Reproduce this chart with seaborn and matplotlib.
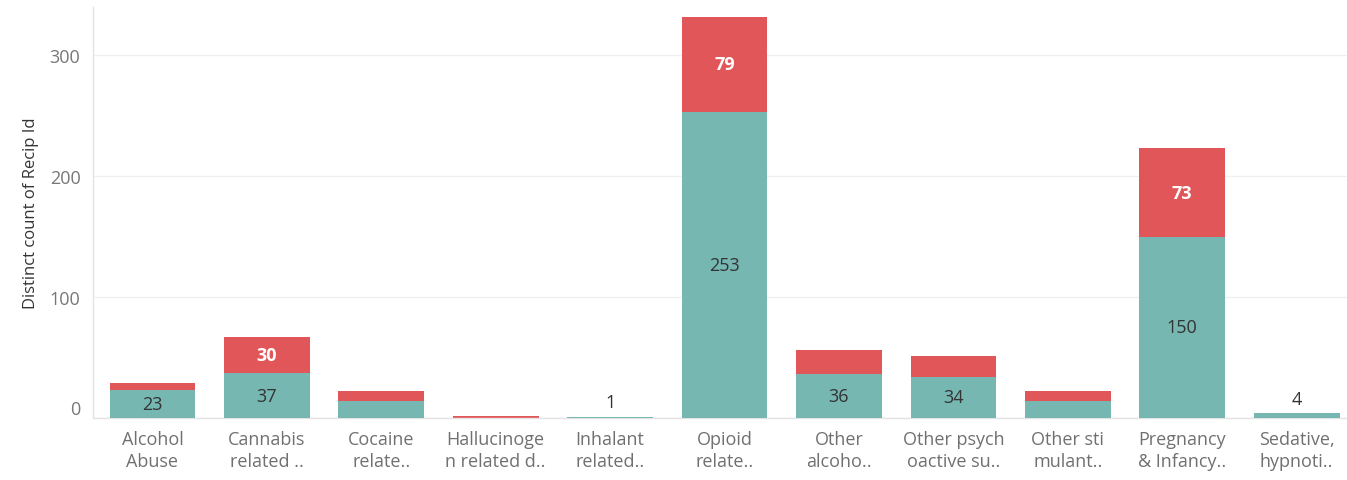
import matplotlib
matplotlib.use("Agg")
import matplotlib.pyplot as plt
import seaborn as sns
import pandas as pd

# Categories (two-line tick labels) and the two stacked series
categories = [
    "Alcohol\nAbuse", "Cannabis\nrelated ..", "Cocaine\nrelate..",
    "Hallucinoge\nn related d..", "Inhalant\nrelated..", "Opioid\nrelate..",
    "Other\nalcoho..", "Other psych\noactive su..", "Other sti\nmulant..",
    "Pregnancy\n& Infancy..", "Sedative,\nhypnoti..",
]
teal_values = [23, 37, 14, 0, 1, 253, 36, 34, 14, 150, 4]
red_values = [6, 30, 8, 2, 0, 79, 20, 17, 8, 73, 0]

# Which segment values are printed on the chart
teal_labels = ["23", "37", "", "", "1", "253", "36", "34", "", "150", "4"]
red_labels = ["", "30", "", "", "", "79", "", "", "", "73", ""]

TEAL = "#76b7b2"
RED = "#e15759"

df = pd.DataFrame({
    "category": categories,
    "teal": teal_values,
    "red": red_values,
})
df["total"] = df["teal"] + df["red"]

sns.set_theme(style="white")
plt.rcParams["font.family"] = ["Open Sans", "DejaVu Sans"]

fig = plt.figure(figsize=(13.47, 4.81), dpi=100)
ax = fig.add_axes([93 / 1347, 62 / 481, 1 - 93 / 1347, 411 / 481])

# Stacked bars: full total in red, teal portion drawn over it
sns.barplot(data=df, x="category", y="total", color=RED, width=0.75,
            saturation=1, linewidth=0, edgecolor="none", ax=ax, zorder=2)
sns.barplot(data=df, x="category", y="teal", color=TEAL, width=0.75,
            saturation=1, linewidth=0, edgecolor="none", ax=ax, zorder=3)

red_bars = ax.containers[0]
teal_bars = ax.containers[1]

# Segment labels
for bar, val, lab in zip(teal_bars, teal_values, teal_labels):
    if not lab:
        continue
    cx = bar.get_x() + bar.get_width() / 2
    if val < 10:
        ax.annotate(lab, (cx, val), xytext=(0, 4), textcoords="offset points",
                    ha="center", va="bottom", fontsize=13, color="#333333",
                    zorder=5)
    else:
        ax.text(cx, val / 2, lab, ha="center", va="center", fontsize=13,
                color="#333333", zorder=5)

for bar, tv, rv, lab in zip(red_bars, teal_values, red_values, red_labels):
    if not lab:
        continue
    cx = bar.get_x() + bar.get_width() / 2
    ax.text(cx, tv + rv / 2, lab, ha="center", va="center", fontsize=13,
            color="white", fontweight="bold", zorder=5)

ax.set_xlim(-0.52, 10.44)
ax.set_ylim(0, 340)
ax.set_yticks([0, 100, 200, 300])
ax.yaxis.grid(True, color="#f0f0f0", linewidth=1)
ax.set_axisbelow(True)

ax.set_xlabel("")
ax.set_ylabel("Distinct count of Recip Id", fontsize=12, color="#333333",
              labelpad=8)
ax.tick_params(axis="x", length=0, pad=9, labelsize=13, labelcolor="#707070")
ax.tick_params(axis="y", length=0, pad=9, labelsize=13, labelcolor="#777777")
for t in ax.get_xticklabels():
    t.set_linespacing(1.25)
for t in ax.get_yticklabels():
    if t.get_text() == "0":
        t.set_va("bottom")

for side in ["top", "right"]:
    ax.spines[side].set_visible(False)
for side in ["left", "bottom"]:
    ax.spines[side].set_color("#e3e3e3")
    ax.spines[side].set_linewidth(1)

fig.savefig("out.png", dpi=100)
